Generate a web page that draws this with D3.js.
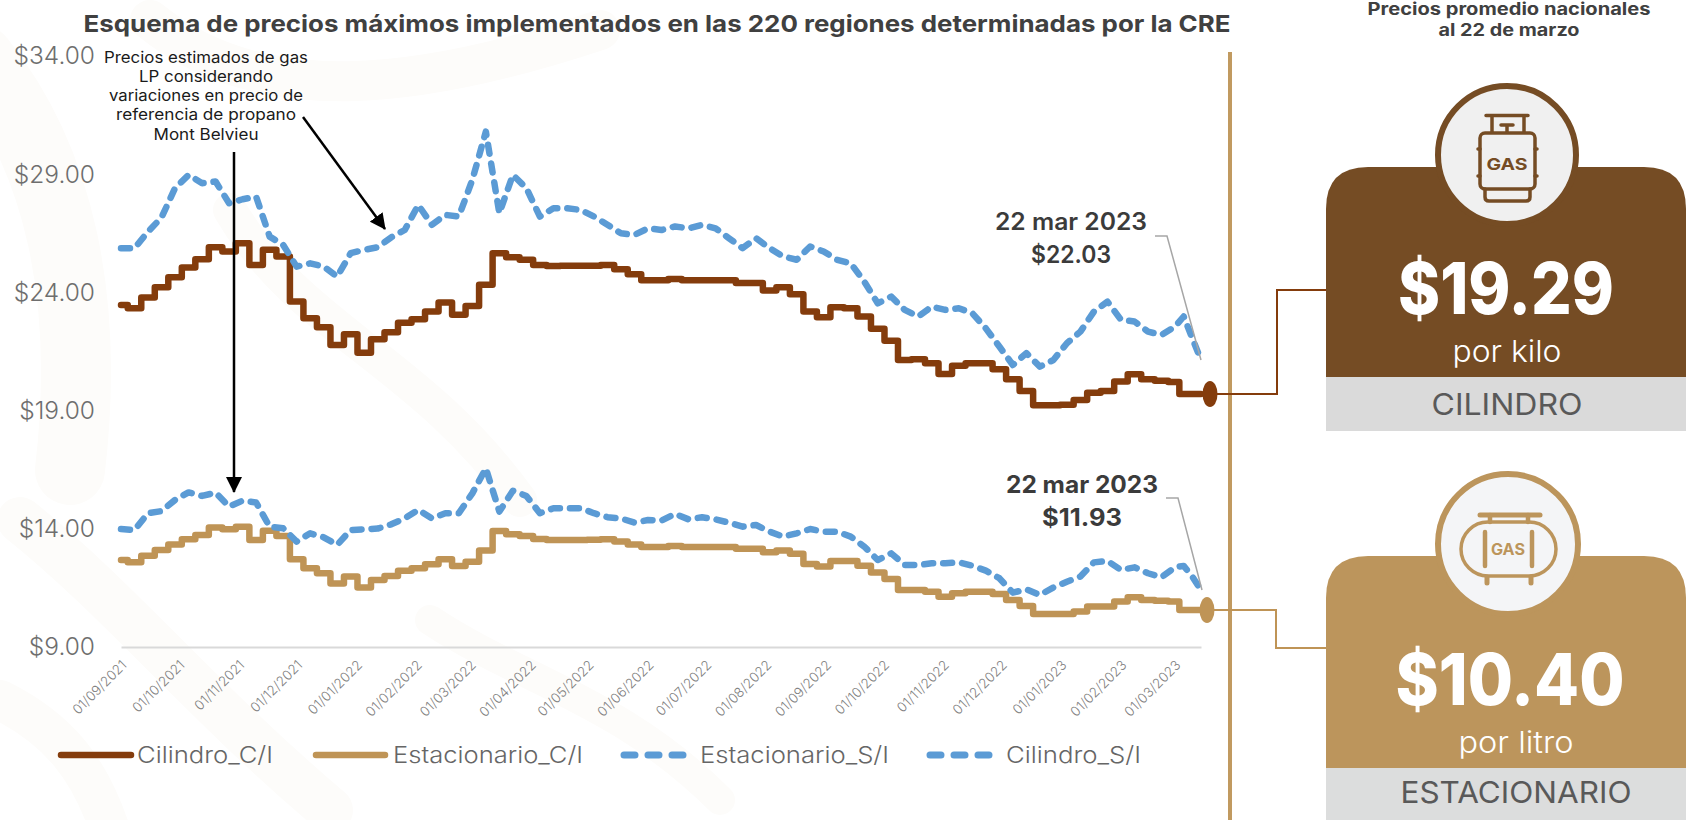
<!DOCTYPE html>
<html>
<head>
<meta charset="utf-8">
<script src="https://cdn.jsdelivr.net/npm/d3@7"></script>
<style>
    body { margin: 0; background: #fff; }
    svg { display: block; }
    text { font-family: Inter, "Open Sans", sans-serif; }
</style>
</head>
<body>
<div id="chart"></div>
<script>
// Weekly readings, 01/09/2021 to 22/03/2023
const cilindroCI = [23.47, 23.33, 23.78, 24.22, 24.64, 25.05, 25.40, 25.91, 25.73, 26.08, 25.16, 25.80, 25.52, 23.61, 22.91, 22.53, 21.78, 22.23, 21.45, 22.02, 22.31, 22.72, 22.86, 23.19, 23.57, 23.05, 23.43, 24.32, 25.66, 25.49, 25.38, 25.16, 25.12, 25.13, 25.13, 25.13, 25.16, 24.98, 24.77, 24.51, 24.51, 24.57, 24.51, 24.51, 24.51, 24.51, 24.40, 24.40, 24.08, 24.22, 23.92, 23.19, 22.95, 23.37, 23.33, 22.98, 22.46, 21.96, 21.14, 21.17, 21.00, 20.55, 20.90, 21.00, 21.00, 20.75, 20.33, 19.83, 19.23, 19.23, 19.25, 19.45, 19.76, 19.83, 20.23, 20.54, 20.33, 20.26, 20.21, 19.70, 19.70, 19.70];
const estacionarioCI = [12.68, 12.58, 12.86, 13.10, 13.34, 13.56, 13.74, 14.06, 13.98, 14.09, 13.53, 13.92, 13.70, 12.71, 12.33, 12.12, 11.69, 11.98, 11.52, 11.83, 12.00, 12.23, 12.33, 12.50, 12.71, 12.43, 12.61, 13.08, 13.91, 13.77, 13.70, 13.57, 13.53, 13.53, 13.53, 13.54, 13.56, 13.46, 13.34, 13.23, 13.23, 13.27, 13.23, 13.23, 13.23, 13.23, 13.16, 13.16, 13.01, 13.08, 12.94, 12.51, 12.40, 12.64, 12.64, 12.44, 12.15, 11.88, 11.41, 11.41, 11.34, 11.13, 11.27, 11.34, 11.34, 11.24, 10.99, 10.73, 10.40, 10.40, 10.40, 10.50, 10.71, 10.71, 10.92, 11.10, 10.99, 10.96, 10.93, 10.56, 10.56, 10.56];
const estacionarioSI = [13.99, 13.95, 14.66, 14.75, 15.22, 15.54, 15.39, 15.53, 14.94, 15.19, 15.11, 14.09, 14.02, 13.46, 13.81, 13.64, 13.32, 13.95, 13.98, 14.01, 14.19, 14.44, 14.80, 14.44, 14.66, 14.66, 15.50, 16.56, 14.73, 15.61, 15.39, 14.66, 14.87, 14.87, 14.87, 14.66, 14.49, 14.44, 14.26, 14.37, 14.35, 14.63, 14.40, 14.49, 14.40, 14.26, 14.09, 14.16, 13.88, 13.67, 13.81, 13.99, 13.88, 13.88, 13.67, 13.25, 12.68, 12.96, 12.47, 12.47, 12.54, 12.54, 12.58, 12.44, 12.23, 11.91, 11.30, 11.44, 11.20, 11.52, 11.76, 11.98, 12.58, 12.64, 12.26, 12.37, 12.12, 11.95, 12.37, 12.43, 11.98, 11.41];
const cilindroSI = [25.87, 25.87, 26.57, 27.17, 28.41, 28.97, 28.62, 28.69, 27.77, 27.94, 28.05, 26.36, 26.01, 25.09, 25.23, 25.09, 24.67, 25.66, 25.80, 25.91, 26.33, 26.64, 27.70, 26.86, 27.28, 27.21, 28.76, 30.80, 27.35, 28.97, 28.41, 27.21, 27.56, 27.56, 27.49, 27.21, 26.86, 26.50, 26.43, 26.71, 26.64, 26.79, 26.71, 26.86, 26.71, 26.29, 25.87, 26.29, 25.87, 25.52, 25.38, 25.94, 25.73, 25.38, 25.23, 24.46, 23.54, 23.82, 23.26, 22.98, 23.40, 23.26, 23.33, 23.12, 22.48, 21.71, 20.93, 21.43, 20.86, 21.14, 21.85, 22.34, 23.19, 23.61, 22.84, 22.77, 22.34, 22.20, 22.55, 22.98, 22.06, 21.14];

const yTicks = [9, 14, 19, 24, 29, 34];
const xTicks = ["2021-09-01", "2021-10-01", "2021-11-01", "2021-12-01", "2022-01-01", "2022-02-01", "2022-03-01", "2022-04-01", "2022-05-01", "2022-06-01", "2022-07-01", "2022-08-01", "2022-09-01", "2022-10-01", "2022-11-01", "2022-12-01", "2023-01-01", "2023-02-01", "2023-03-01"];
const firstDate = "2021-09-01";
const breakDate = "2023-03-01";
const lastDate = "2023-03-22";
const noteLines = ["Precios estimados de gas", "LP considerando", "variaciones en precio de", "referencia de propano", "Mont Belvieu"];

const brown = "#843C0C",
    gold = "#BF9456",
    blue = "#5B9BD5",
    cardBrown = "#754C24",
    cardGold = "#BC955C";

// Chart sizes
const height = 820,
    width = 1686,
    margin = ({top: 56, right: 485, bottom: 173, left: 121});

const parseDate = d3.utcParse("%Y-%m-%d");

const svg = d3.select("#chart")
    .append("svg")
    .attr("width", width)
    .attr("height", height);

// Faint background pattern
const wash = svg.append("g").attr("fill", "none").attr("stroke", "#FDFCFA");
[
    ["M-20,60 C60,160 90,300 70,470", 70],
    ["M20,520 C120,600 200,700 330,810", 46],
    ["M150,20 C260,110 420,90 600,30", 40],
    ["M230,210 C300,330 420,360 520,500", 34],
    ["M430,620 C520,680 620,700 720,800", 30],
    ["M0,700 C60,730 90,770 110,830", 40]
].forEach(([d, w]) => wash.append("path").attr("d", d).attr("stroke-width", w).attr("stroke-linecap", "round"));

// Define x-scale
const x = d3.scaleUtc()
    .domain([parseDate(firstDate), parseDate(breakDate), parseDate(lastDate)])
    .range([margin.left, 1175, width - margin.right]);

// Define y-scale
const y = d3.scaleLinear()
    .domain([9, 34])
    .range([height - margin.bottom, margin.top]);

const weekDate = i => d3.utcDay.offset(parseDate(firstDate), i * 7);

// Stepped price lines and dashed estimate lines
const stepLine = d3.line()
    .x((d, i) => x(weekDate(i)))
    .y(d => y(d))
    .curve(d3.curveStep);

const plainLine = d3.line()
    .x((d, i) => x(weekDate(i)))
    .y(d => y(d));

// Add x-axis
const xAxis = svg.append("g")
    .attr("transform", `translate(0,${height - margin.bottom})`)
    .call(d3.axisBottom(x)
        .tickValues(xTicks.map(parseDate))
        .tickSize(0)
        .tickFormat(d3.utcFormat("%d/%m/%Y")));

xAxis.select(".domain").attr("stroke", "#D9D9D9").attr("stroke-width", 2);
xAxis.selectAll("text")
    .attr("text-anchor", "end")
    .attr("dy", 0)
    .attr("y", 0)
    .attr("transform", "translate(6,19) rotate(-45)")
    .attr("fill", "#7F7F7F")
    .attr("font-weight", 300)
    .style("font-size", "13.5px")
    .style("font-family", "Inter");

// Add y-axis
const yAxis = svg.append("g")
    .attr("transform", "translate(95,0)")
    .call(d3.axisLeft(y)
        .tickValues(yTicks)
        .tickSize(0)
        .tickPadding(0)
        .tickFormat(d3.format("$.2f")));

yAxis.select(".domain").remove();
yAxis.selectAll("text")
    .attr("fill", "#6E6E6E")
    .attr("font-weight", 300)
    .style("font-size", "24.5px")
    .style("font-family", "Inter");

// Add lines
[[cilindroCI, brown], [estacionarioCI, gold]].forEach(([values, color]) => {
    svg.append("path")
        .datum(values)
        .attr("fill", "none")
        .attr("stroke", color)
        .attr("stroke-width", 6.5)
        .attr("stroke-linejoin", "round")
        .attr("stroke-linecap", "round")
        .attr("d", stepLine);
});

[cilindroSI, estacionarioSI].forEach(values => {
    svg.append("path")
        .datum(values)
        .attr("fill", "none")
        .attr("stroke", blue)
        .attr("stroke-width", 6.5)
        .attr("stroke-linejoin", "round")
        .attr("stroke-linecap", "round")
        .attr("stroke-dasharray", "9 10")
        .attr("d", plainLine);
});

// Separator
svg.append("line")
    .attr("x1", 1230).attr("x2", 1230)
    .attr("y1", 52).attr("y2", height)
    .attr("stroke", "#C19A60")
    .attr("stroke-width", 4);

// Text with its width set to the measured one
function label(parent, str, cx, base, size, weight, fill, len) {
    return parent.append("text")
        .text(str)
        .attr("x", cx)
        .attr("y", base)
        .attr("text-anchor", "middle")
        .attr("font-size", size)
        .attr("font-weight", weight)
        .attr("fill", fill)
        .attr("textLength", len)
        .attr("lengthAdjust", "spacingAndGlyphs");
}

// Titles
label(svg, "Esquema de precios máximos implementados en las 220 regiones determinadas por la CRE", 657, 32, 23.5, 700, "#404040", 1147);
label(svg, "Precios promedio nacionales", 1509, 15, 17, 700, "#404040", 283);
label(svg, "al 22 de marzo", 1509, 36, 17, 700, "#404040", 141);

// Annotation
const noteWidths = [204, 134, 194, 180, 105];
noteLines.forEach((line, i) => {
    label(svg, line, 206, [63, 82, 101, 120, 140][i], 15.5, 400, "#1A1A1A", noteWidths[i]);
});

const defs = svg.append("defs");
defs.append("marker")
    .attr("id", "head")
    .attr("viewBox", "0 0 16 16")
    .attr("refX", 15).attr("refY", 8)
    .attr("markerWidth", 16).attr("markerHeight", 16)
    .attr("markerUnits", "userSpaceOnUse")
    .attr("orient", "auto")
    .append("path")
    .attr("d", "M0,0 L16,8 L0,16 Z")
    .attr("fill", "#000");

[[234, 152, 234, 492], [303, 117, 385, 229]].forEach(([x1, y1, x2, y2]) => {
    svg.append("line")
        .attr("x1", x1).attr("y1", y1)
        .attr("x2", x2).attr("y2", y2)
        .attr("stroke", "#000")
        .attr("stroke-width", 2.5)
        .attr("marker-end", "url(#head)");
});

// Last value labels with leaders
const endLabels = [
    {date: "22 mar 2023", price: "$22.03", cx: 1071, y1: 230, y2: 263, weight: 600, leader: [[1155, 236], [1167, 236], [x(parseDate(lastDate)), y(cilindroSI[cilindroSI.length - 1])]]},
    {date: "22 mar 2023", price: "$11.93", cx: 1082, y1: 493, y2: 526, weight: 700, leader: [[1166, 498], [1178, 498], [x(parseDate(lastDate)) + 1, y(estacionarioSI[estacionarioSI.length - 1])]]}
];
endLabels.forEach(d => {
    label(svg, d.date, d.cx, d.y1, 24, d.weight, "#3B3B3B", 152);
    label(svg, d.price, d.cx, d.y2, 24, d.weight, "#3B3B3B", 80);
    svg.append("path")
        .attr("d", d3.line()(d.leader))
        .attr("fill", "none")
        .attr("stroke", "#A6A6A6")
        .attr("stroke-width", 1.5);
});

// Connectors from the last point to the cards
const endBrown = y(cilindroCI[cilindroCI.length - 1]);
const endGold = y(estacionarioCI[estacionarioCI.length - 1]);
const xEnd = x(parseDate(lastDate));

svg.append("path")
    .attr("d", d3.line()([[xEnd + 9, endBrown], [1277, endBrown], [1277, 290], [1326, 290]]))
    .attr("fill", "none").attr("stroke", brown).attr("stroke-width", 2);
svg.append("path")
    .attr("d", d3.line()([[xEnd + 6, endGold], [1276, endGold], [1276, 648], [1326, 648]]))
    .attr("fill", "none").attr("stroke", gold).attr("stroke-width", 2);

svg.append("ellipse")
    .attr("cx", xEnd + 9).attr("cy", endBrown)
    .attr("rx", 7.5).attr("ry", 13)
    .attr("fill", brown);
svg.append("ellipse")
    .attr("cx", xEnd + 6).attr("cy", endGold)
    .attr("rx", 7.5).attr("ry", 13)
    .attr("fill", gold);

// Legend
const legend = [
    {name: "Cilindro_C/I", color: brown, x1: 61, x2: 131, tx: 137, tw: 136},
    {name: "Estacionario_C/I", color: gold, x1: 316, x2: 385, tx: 393, tw: 190},
    {name: "Estacionario_S/I", color: blue, x1: 624, x2: 688, tx: 700, tw: 189, dash: true},
    {name: "Cilindro_S/I", color: blue, x1: 930, x2: 994, tx: 1006, tw: 135, dash: true}
];
legend.forEach(d => {
    svg.append("line")
        .attr("x1", d.x1).attr("x2", d.x2)
        .attr("y1", 755).attr("y2", 755)
        .attr("stroke", d.color)
        .attr("stroke-width", d.dash ? 7 : 6.5)
        .attr("stroke-linecap", "round")
        .attr("stroke-dasharray", d.dash ? "11 13" : null);
    label(svg, d.name, d.tx + d.tw / 2, 763, 23, 300, "#666666", d.tw);
});

// Price cards
function card(top, split, bottom, fill, band) {
    const left = 1326, right = 1686, r = 42;
    svg.append("path")
        .attr("d", `M${left},${split} V${top + r} Q${left},${top} ${left + r},${top} H${right - r} Q${right},${top} ${right},${top + r} V${split} Z`)
        .attr("fill", fill);
    svg.append("rect")
        .attr("x", left).attr("y", split)
        .attr("width", right - left).attr("height", bottom - split)
        .attr("fill", band);
}

card(167, 377, 431, cardBrown, "#DADADA");
card(556, 768, 820, cardGold, "#DCDDDD");

label(svg, "$19.29", 1506, 314, 72, 800, "#fff", 216);
label(svg, "por kilo", 1507, 362, 30, 300, "#fff", 109);
label(svg, "CILINDRO", 1507, 415, 30, 400, "#595959", 151);

label(svg, "$10.40", 1510, 705, 72, 800, "#fff", 229);
label(svg, "por litro", 1516, 753, 30, 300, "#fff", 115);
label(svg, "ESTACIONARIO", 1516, 803, 30, 400, "#595959", 231);

// Cylinder icon
svg.append("circle")
    .attr("cx", 1507).attr("cy", 155).attr("r", 69)
    .attr("fill", "#F0F0F0").attr("stroke", cardBrown).attr("stroke-width", 6);

const cyl = svg.append("g")
    .attr("fill", "none")
    .attr("stroke", cardBrown)
    .attr("stroke-width", 3.5)
    .attr("stroke-linecap", "round")
    .attr("stroke-linejoin", "round");
cyl.append("path").attr("d", "M1486,115.5 H1528 M1492,116 V132 M1524,116 V132 M1501,125 H1513 M1507,125 V132");
cyl.append("rect").attr("x", 1480).attr("y", 133).attr("width", 55).attr("height", 56).attr("rx", 5);
cyl.append("path").attr("d", "M1485,189 V197 Q1485,201 1489,201 H1526 Q1530,201 1530,197 V189 M1478,149 H1480 M1535,149 H1537 M1478,176 H1480 M1535,176 H1537");
label(svg, "GAS", 1507, 170, 16.5, 700, cardBrown, 41);

// Tank icon
svg.append("circle")
    .attr("cx", 1508).attr("cy", 544).attr("r", 70)
    .attr("fill", "#F4F5F7").attr("stroke", cardGold).attr("stroke-width", 6);

const tank = svg.append("g")
    .attr("fill", "none")
    .attr("stroke", cardGold)
    .attr("stroke-width", 3.5)
    .attr("stroke-linecap", "round")
    .attr("stroke-linejoin", "round");
tank.append("path").attr("d", "M1480,515 H1540").attr("stroke-width", 5);
tank.append("path").attr("d", "M1490,515 V522 M1528,515 V522 M1485,532 V566 M1532,532 V566").attr("stroke-width", 4.5);
tank.append("rect").attr("x", 1461).attr("y", 522).attr("width", 95).attr("height", 54).attr("rx", 27);
tank.append("path").attr("d", "M1487,577 V583 M1531,577 V583").attr("stroke-width", 5);
label(svg, "GAS", 1508, 555, 15.5, 700, cardGold, 34);
</script>
</body>
</html>
